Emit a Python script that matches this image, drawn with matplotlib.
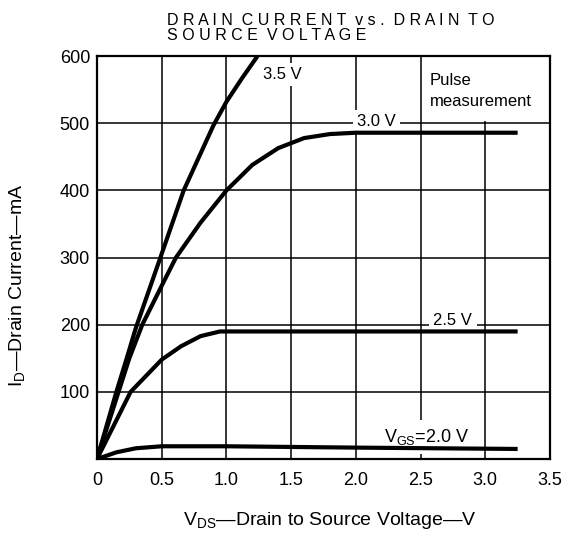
import matplotlib
matplotlib.use("Agg")
import matplotlib.pyplot as plt
from matplotlib.patches import Rectangle

plt.rcParams['font.family'] = ['Liberation Sans', 'DejaVu Sans']
plt.rcParams['mathtext.fontset'] = 'custom'
plt.rcParams['mathtext.rm'] = 'Liberation Sans'

# VDS (V) vs ID (mA)
vds_35 = [0, 0.15, 0.23, 0.3, 0.49, 0.67, 0.9, 1.0, 1.12, 1.24]
id_35 = [0, 100, 150, 195, 300, 400, 497, 532, 567, 600]

vds_30 = [0, 0.12, 0.25, 0.35, 0.5, 0.61, 0.8, 1.0, 1.2, 1.4, 1.6, 1.8, 2.0, 3.25]
id_30 = [0, 72, 150, 200, 258, 300, 352, 400, 438, 463, 478, 484, 486, 486]

vds_25 = [0, 0.26, 0.5, 0.65, 0.8, 0.95, 1.0, 3.25]
id_25 = [0, 100, 148, 168, 183, 190, 190, 190]

vds_20 = [0, 0.15, 0.3, 0.5, 1.0, 2.0, 3.25]
id_20 = [0, 10, 16, 19, 19, 17, 15]

xticks = [0, 0.5, 1.0, 1.5, 2.0, 2.5, 3.0, 3.5]
xlabels = ["0", "0.5", "1.0", "1.5", "2.0", "2.5", "3.0", "3.5"]
yticks = [100, 200, 300, 400, 500, 600]

fig = plt.figure(figsize=(5.67, 5.35), dpi=100)
ax = fig.add_axes([0.171, 0.142, 0.799, 0.753])

ax.set_xlim(0, 3.5)
ax.set_ylim(0, 600)
ax.set_xticks(xticks)
ax.set_xticklabels(xlabels)
ax.set_yticks(yticks)
ax.tick_params(length=0, labelsize=13, pad=5)
ax.tick_params(axis='x', pad=9)
ax.set_axisbelow(True)
ax.grid(True, color='black', linewidth=1.1)
for s in ax.spines.values():
    s.set_linewidth(1.6)

# white area behind the note
ax.add_patch(Rectangle((2.515, 504), 1.0, 100, facecolor='white', edgecolor='none', zorder=1))

lw = 3.0
for x, y in [(vds_35, id_35), (vds_30, id_30), (vds_25, id_25), (vds_20, id_20)]:
    ax.plot(x, y, color='black', linewidth=lw, solid_capstyle='butt',
            solid_joinstyle='round', zorder=3)

box = dict(facecolor='white', edgecolor='none', pad=3)
ax.text(1.28, 573, "3.5 V", fontsize=12, ha='left', va='center', bbox=box, zorder=2)
ax.text(2.01, 502, "3.0 V", fontsize=12, ha='left', va='center', bbox=box, zorder=2)
ax.text(2.6, 206, "2.5 V", fontsize=12, ha='left', va='center', bbox=box, zorder=2)
ax.text(2.22, 33, r"$\mathrm{V}_{\mathrm{GS}}$=2.0 V", fontsize=13, ha='left', va='center',
        bbox=dict(facecolor='white', edgecolor='none', pad=5), zorder=2)
ax.text(2.57, 548, "Pulse\nmeasurement", fontsize=12, ha='left', va='center',
        linespacing=1.45, zorder=2)

fig.text(0.295, 0.976, "D R A I N  C U R R E N T  v s .  D R A I N  T O\nS O U R C E  V O L T A G E",
         fontsize=11.5, ha='left', va='top', linespacing=1.05)
fig.text(0.582, 0.028, r"$\mathrm{V}_{\mathrm{DS}}$" + "\u2014Drain to Source Voltage\u2014V",
         fontsize=14, ha='center', va='center')
fig.text(0.032, 0.467, r"$\mathrm{I}_{\mathrm{D}}$" + "\u2014Drain Current\u2014mA",
         fontsize=14, ha='center', va='center', rotation=90)

fig.savefig("out.png", dpi=100)
